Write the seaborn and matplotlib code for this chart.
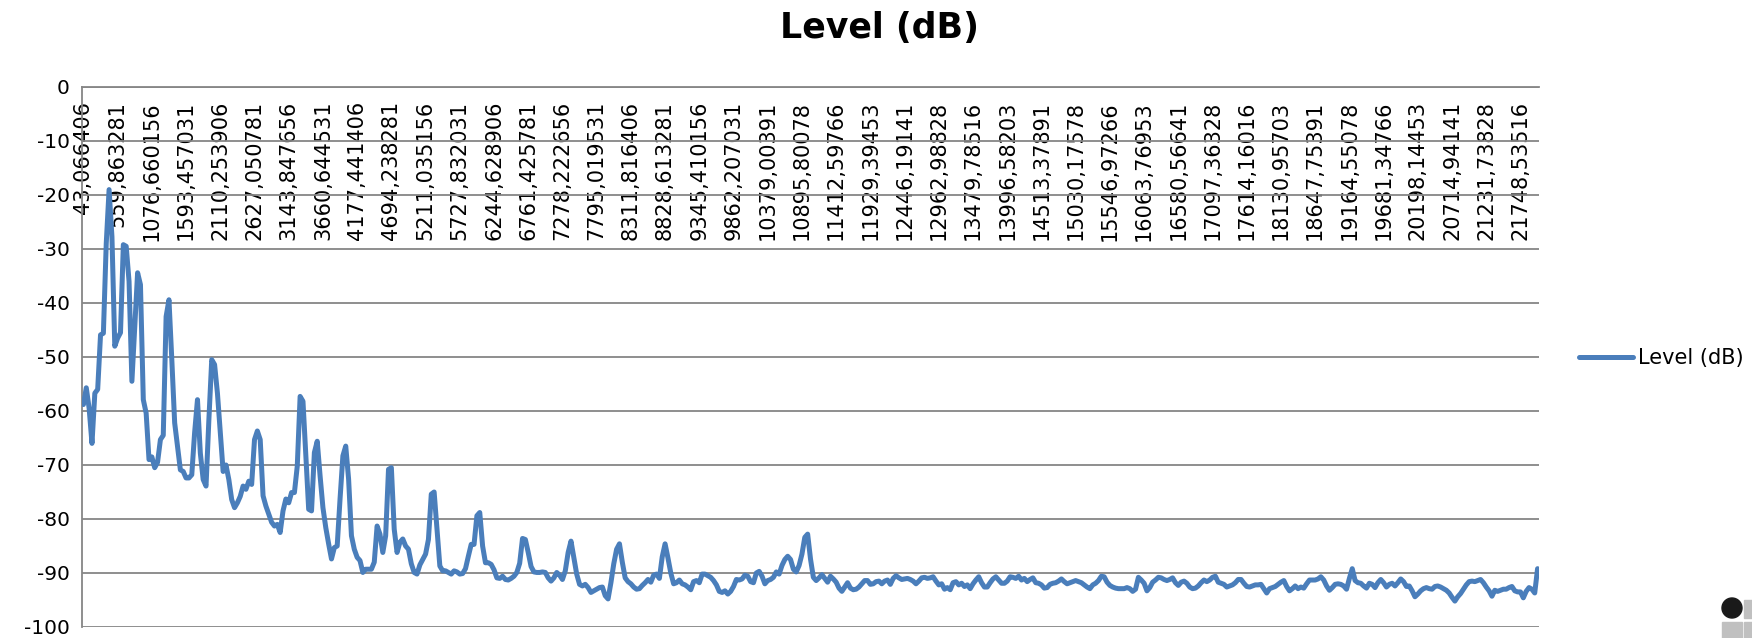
import matplotlib
matplotlib.use("Agg")
import matplotlib.pyplot as plt
import matplotlib.patches as mpatches
import numpy as np
import pandas as pd
import seaborn as sns

# FFT level per frequency bin (dB)
level_db = [
    -58.8, -55.7, -59.5, -66.0, -56.7, -56.0, -45.9, -45.6, -29.0, -19.0,
    -27.7, -48.0, -46.5, -45.5, -29.2, -29.5, -36.0, -54.5, -44.3, -34.4,
    -36.6, -57.9, -60.4, -69.0, -68.5, -70.5, -69.5, -65.3, -64.5, -42.5,
    -39.4, -50.5, -62.2, -66.5, -70.9, -71.2, -72.4, -72.4, -71.8, -64.0,
    -57.9, -67.8, -72.7, -73.9, -61.6, -50.5, -51.4, -56.7, -64.0, -71.2,
    -70.0, -72.7, -76.4, -77.9, -77.0, -75.8, -73.9, -74.5, -73.0, -73.6,
    -65.3, -63.7, -65.3, -75.7, -77.6, -79.1, -80.6, -81.3, -81.0, -82.5,
    -78.5, -76.3, -77.0, -75.1, -75.1, -70.2, -57.3, -58.2, -68.3, -78.2,
    -78.5, -67.7, -65.6, -72.0, -77.9, -81.6, -84.6, -87.4, -85.3, -85.0,
    -76.3, -68.3, -66.5, -72.6, -83.1, -85.6, -87.1, -87.7, -89.9, -89.3,
    -89.3, -89.3, -88.0, -81.3, -82.8, -86.2, -83.1, -70.8, -70.5, -81.9,
    -86.2, -84.3, -83.7, -85.0, -85.6, -88.3, -89.9, -90.2, -88.5, -87.5,
    -86.5, -83.8, -75.4, -75.0, -81.9, -88.7, -89.6, -89.6, -89.9, -90.2,
    -89.6, -89.8, -90.2, -90.1, -89.2, -86.9, -84.7, -84.7, -79.4, -78.8,
    -85.0, -88.1, -88.1, -88.4, -89.4, -90.9, -91.0, -90.6, -91.2, -91.3,
    -91.0, -90.6, -89.9, -88.2, -83.6, -83.8, -86.2, -88.8, -89.8, -89.9,
    -89.9, -89.8, -89.9, -90.9, -91.5, -90.9, -89.9, -90.4, -91.2, -89.6,
    -86.2, -84.1, -87.2, -90.2, -92.1, -92.4, -92.1, -92.7, -93.6, -93.3,
    -93.0, -92.7, -92.6, -94.2, -94.8, -91.8, -88.3, -85.6, -84.6, -88.0,
    -90.9, -91.6, -92.0, -92.6, -93.0, -92.9, -92.3, -91.8, -91.2, -91.7,
    -90.4, -90.2, -91.0, -87.0, -84.6, -87.2, -90.0, -92.0, -91.8, -91.3,
    -92.0, -92.2, -92.6, -93.1, -91.6, -91.4, -91.8, -90.2, -90.2, -90.5,
    -90.8, -91.4, -92.2, -93.4, -93.6, -93.3, -93.9, -93.4, -92.5, -91.2,
    -91.3, -91.1, -90.4, -90.6, -91.6, -91.8, -90.0, -89.7, -90.6, -92.0,
    -91.4, -91.2, -90.8, -89.8, -90.2, -88.6, -87.5, -86.9, -87.5, -89.3,
    -89.8, -88.6, -86.5, -83.4, -82.8, -87.4, -90.8, -91.4, -90.9, -90.3,
    -91.0, -91.7, -90.6, -91.1, -91.7, -92.8, -93.4, -92.6, -91.8, -92.8,
    -93.1, -93.0, -92.6, -92.0, -91.4, -91.4, -92.1, -92.0, -91.6, -91.5,
    -92.0, -91.5, -91.3, -92.1, -91.0, -90.5, -90.9, -91.2, -91.1, -91.0,
    -91.2, -91.5, -92.0, -91.5, -90.9, -90.8, -91.0, -90.9, -90.7, -91.5,
    -92.2, -92.0, -93.0, -92.7, -93.1, -91.8, -91.6, -92.2, -91.9, -92.5,
    -92.2, -92.9, -92.0, -91.3, -90.7, -91.8, -92.6, -92.6, -91.8, -91.1,
    -90.7, -91.3, -91.9, -91.9, -91.5, -90.7, -90.8, -91.0, -90.6, -91.3,
    -91.0, -91.6, -91.2, -90.9, -91.8, -91.9, -92.2, -92.8, -92.7, -92.1,
    -91.9, -91.8, -91.5, -91.1, -91.6, -92.0, -91.8, -91.6, -91.4, -91.6,
    -91.8, -92.2, -92.6, -92.9, -92.2, -91.9, -91.4, -90.6, -90.7, -91.7,
    -92.3, -92.6, -92.8, -92.9, -92.9, -92.9, -92.7, -92.9, -93.4, -93.0,
    -90.8, -91.3, -91.9, -93.3, -92.7, -91.7, -91.3, -90.8, -90.9, -91.2,
    -91.4, -91.2, -90.9, -91.8, -92.3, -91.7, -91.5, -91.9, -92.6, -92.9,
    -92.8, -92.4, -91.8, -91.3, -91.6, -91.3, -90.8, -90.6, -91.7, -91.9,
    -92.1, -92.6, -92.4, -92.2, -91.8, -91.2, -91.2, -91.9, -92.5, -92.6,
    -92.4, -92.2, -92.2, -92.1, -92.9, -93.7, -92.9, -92.7, -92.5, -92.1,
    -91.7, -91.4, -92.5, -93.3, -92.9, -92.4, -92.9, -92.6, -92.8, -92.0,
    -91.3, -91.3, -91.3, -91.1, -90.7, -91.3, -92.4, -93.2, -92.7, -92.1,
    -92.0, -92.1, -92.4, -93.0, -91.0, -89.2, -91.4, -91.8, -91.9, -92.4,
    -92.8, -91.9, -92.1, -92.7, -91.8, -91.2, -91.8, -92.6, -92.1, -91.9,
    -92.4, -91.8, -91.1, -91.6, -92.5, -92.4, -93.3, -94.4, -93.9, -93.3,
    -92.9, -92.7, -92.9, -93.0, -92.5, -92.4, -92.6, -92.9, -93.2, -93.7,
    -94.5, -95.2, -94.4, -93.8, -93.0, -92.2, -91.6, -91.5, -91.6, -91.4,
    -91.2, -91.8, -92.6, -93.3, -94.3, -93.2, -93.4, -93.2, -93.0, -93.0,
    -92.7, -92.5, -93.3, -93.5, -93.5, -94.6, -93.4, -92.7, -93.0, -93.7,
    -89.2,
]

# category labels shown on the axis (every 12th bin, Excel style with decimal comma)
tick_labels = [
    "43,066406", "559,863281", "1076,660156", "1593,457031", "2110,253906",
    "2627,050781", "3143,847656", "3660,644531", "4177,441406", "4694,238281",
    "5211,035156", "5727,832031", "6244,628906", "6761,425781", "7278,222656",
    "7795,019531", "8311,816406", "8828,613281", "9345,410156", "9862,207031",
    "10379,00391", "10895,80078", "11412,59766", "11929,39453", "12446,19141",
    "12962,98828", "13479,78516", "13996,58203", "14513,37891", "15030,17578",
    "15546,97266", "16063,76953", "16580,56641", "17097,36328", "17614,16016",
    "18130,95703", "18647,75391", "19164,55078", "19681,34766", "20198,14453",
    "20714,94141", "21231,73828", "21748,53516",
]
label_every = 12
y_ticks = list(range(-100, 1, 10))

sns.set_style("white")
plt.rcParams["font.family"] = ["DejaVu Sans"]
plt.rcParams["axes.unicode_minus"] = False
plt.rcParams["text.color"] = "black"
plt.rcParams["xtick.labelcolor"] = "black"
plt.rcParams["ytick.labelcolor"] = "black"

df = pd.DataFrame({"bin": np.arange(len(level_db)), "level": level_db})

W, H = 1752, 638
fig = plt.figure(figsize=(W / 100, H / 100), dpi=100)
ax = fig.add_axes([82 / W, 1 - 627 / H, (1539 - 82) / W, (627 - 87) / H])

grid_c = "#868686"
sns.lineplot(data=df, x="bin", y="level", ax=ax, color="#4A7EBB", lw=3.6,
             estimator=None, label="Level (dB)", zorder=3)

ax.set_xlim(-0.5, len(level_db) - 0.5)
ax.set_ylim(-100, 0)
ax.set_xlabel("")
ax.set_ylabel("")

# category axis sits at y = 0, i.e. along the top edge
ax.spines["bottom"].set_position(("data", 0))
ax.spines["top"].set_visible(False)
ax.spines["right"].set_visible(False)
for s in ("bottom", "left"):
    ax.spines[s].set_color(grid_c)
    ax.spines[s].set_linewidth(1.3)

ax.set_xticks(np.arange(0, len(level_db), label_every)[:len(tick_labels)])
ax.set_xticklabels(tick_labels, rotation=90, color="black")
ax.set_xticks(np.arange(-0.5, len(level_db), 1), minor=True)
ax.tick_params(axis="x", which="major", length=0, pad=10, labelsize=15)
ax.tick_params(axis="x", which="minor", length=6.5, width=0.8, color=grid_c, direction="out")

ax.set_yticks(y_ticks)
ax.set_yticklabels([str(v) for v in y_ticks], color="black")
ax.tick_params(axis="y", length=6, width=1.3, color=grid_c, pad=3, labelsize=14.5)
ax.yaxis.grid(True, color=grid_c, lw=1.3)
ax.xaxis.grid(False)

leg = ax.legend(loc="center left", bbox_to_anchor=(1579 / W, 1 - 358 / H),
                bbox_transform=fig.transFigure, frameon=False, fontsize=15,
                handlelength=2.6, handletextpad=0.25, borderpad=0, borderaxespad=0)
for t in leg.get_texts():
    t.set_color("black")

fig.text(0.502, 1 - 28 / H, "Level (dB)", ha="center", va="center",
         fontsize=25, fontweight="bold", color="black")

# little logo in the bottom right corner
fig.add_artist(mpatches.Circle((17.32, 0.30), 0.10, color="#1a1a1a",
                               transform=fig.dpi_scale_trans))
for (x0, y0) in [(17.44, 0.20), (17.22, -0.02), (17.44, -0.02)]:
    fig.add_artist(mpatches.Rectangle((x0, y0), 0.2, 0.18, color="#c0c0c0",
                                      transform=fig.dpi_scale_trans))

fig.savefig("out.png", dpi=100)
